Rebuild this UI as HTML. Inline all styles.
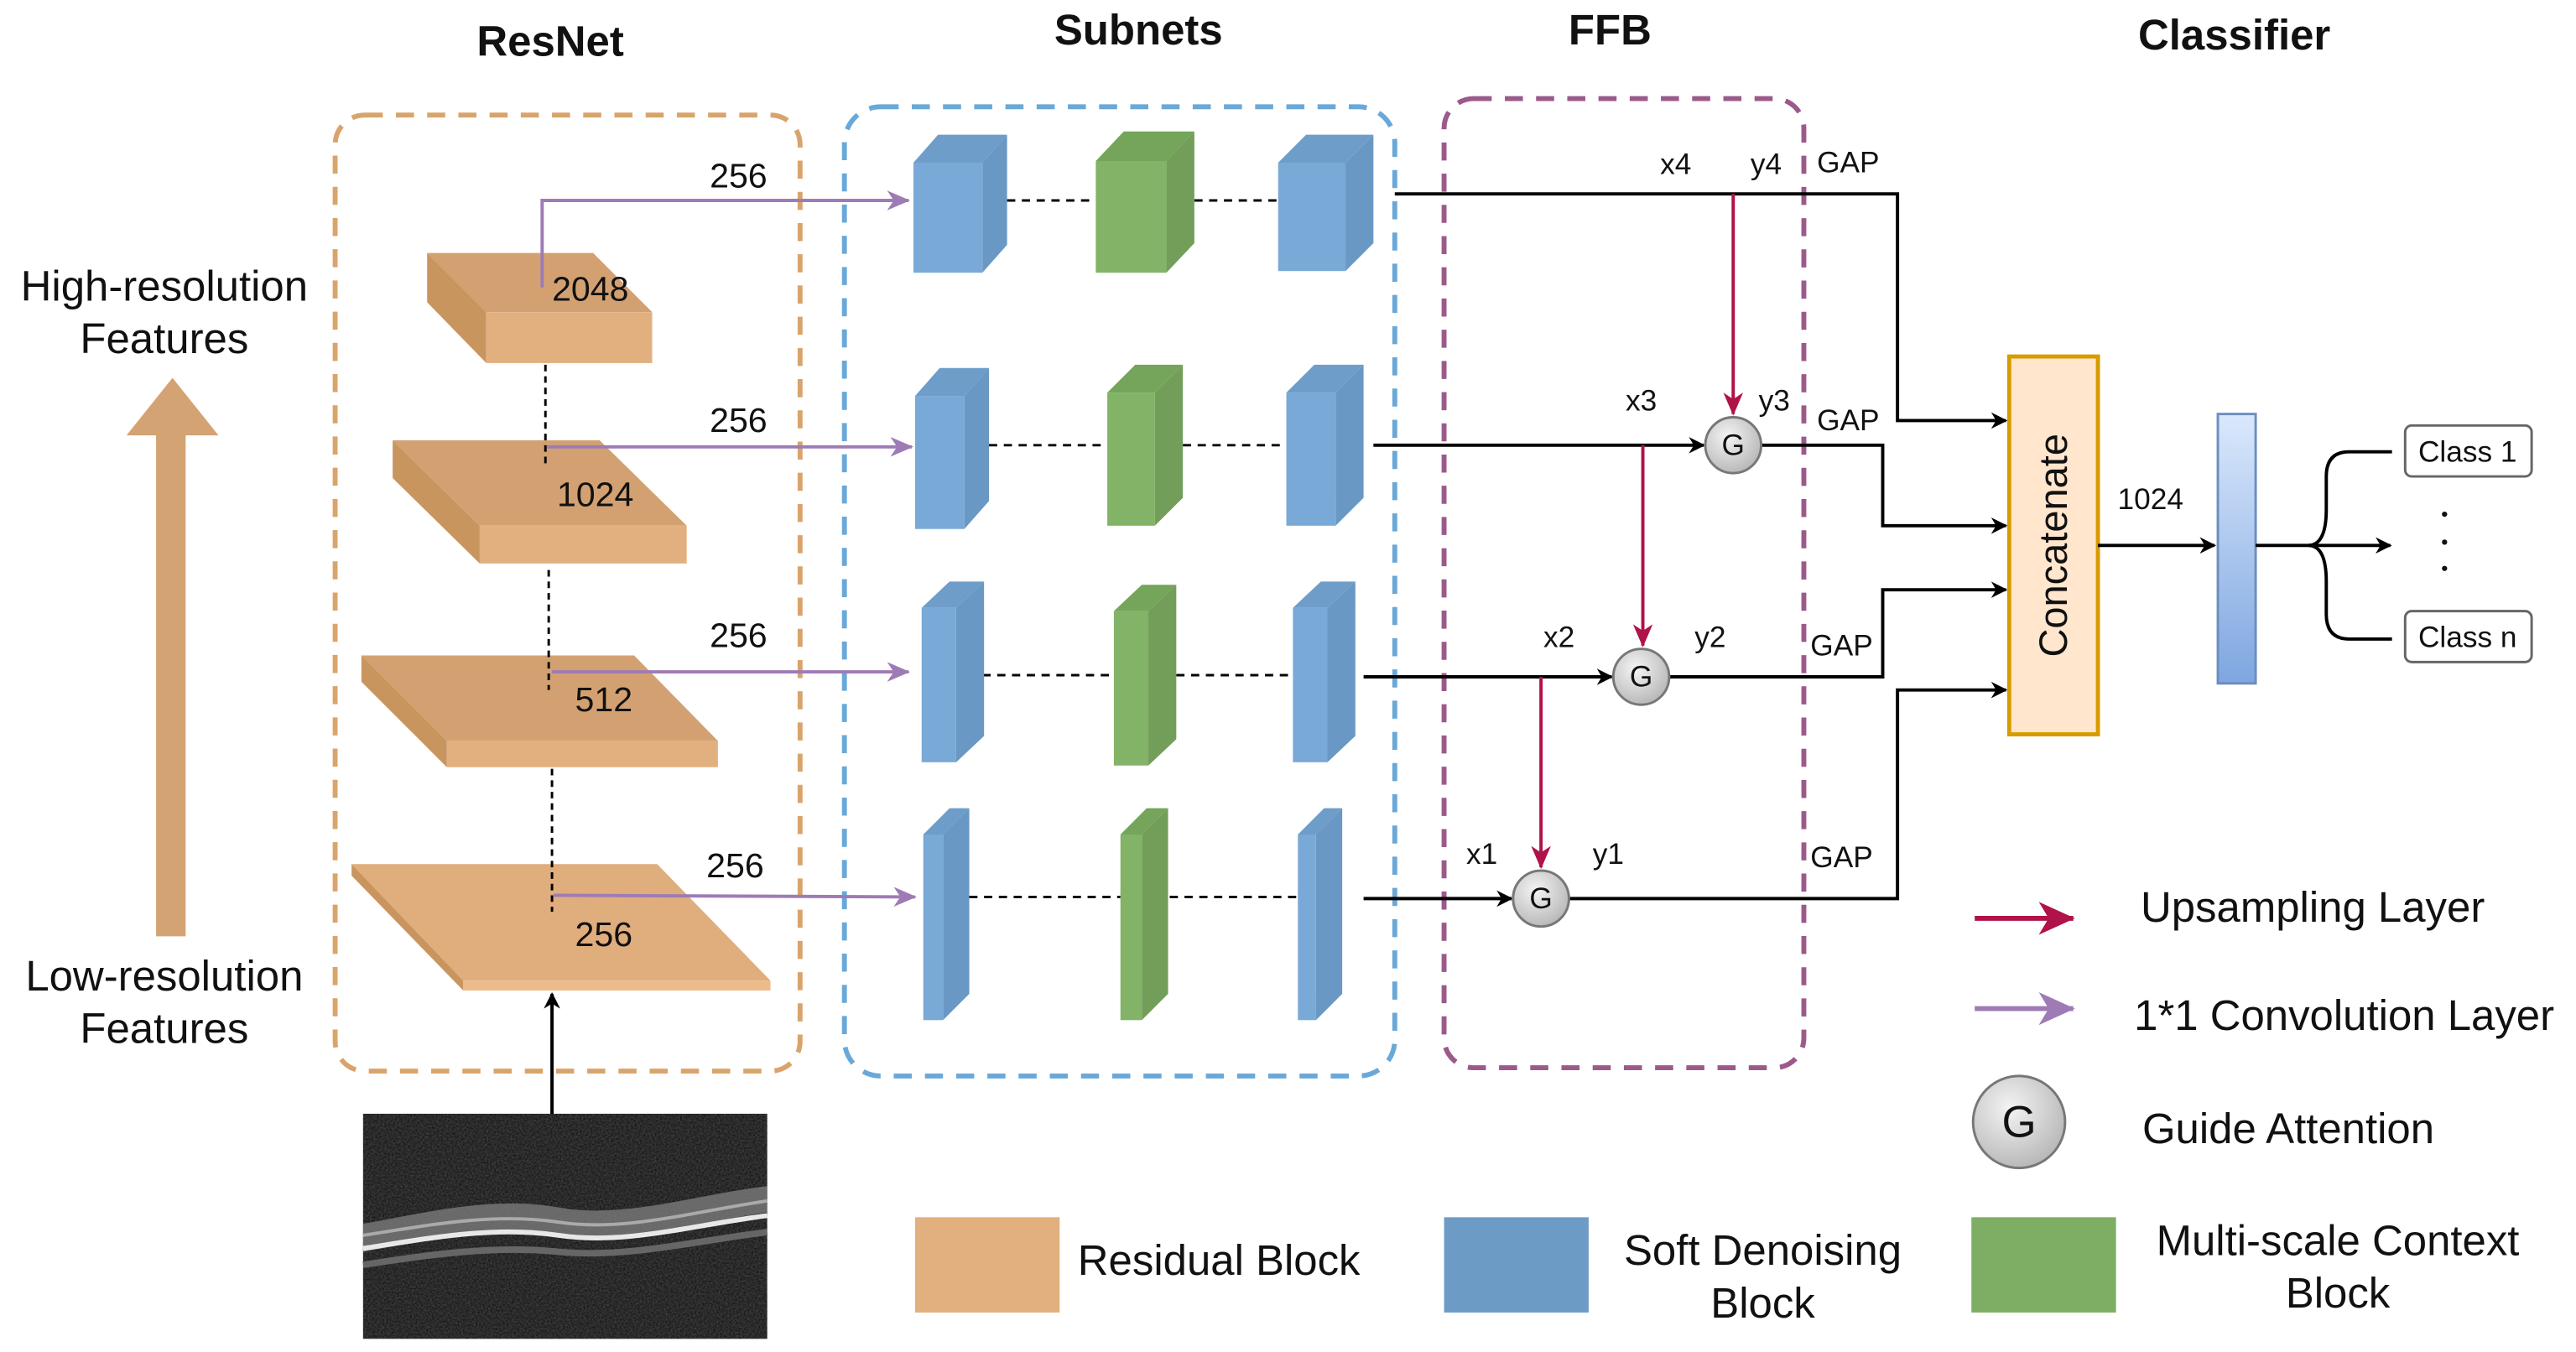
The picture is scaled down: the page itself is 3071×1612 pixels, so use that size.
<!DOCTYPE html>
<html><head><meta charset="utf-8"><style>html,body{margin:0;padding:0;background:#fff}svg{display:block}</style></head><body>
<svg width="3071" height="1612" viewBox="0 0 1568 823" xmlns="http://www.w3.org/2000/svg" font-family="Liberation Sans, Arial, sans-serif">
<defs>
<marker id="ab" markerWidth="10" markerHeight="10" refX="9" refY="5" orient="auto" markerUnits="userSpaceOnUse"><path d="M0,0 L10,5 L0,10 L3,5 Z" fill="#000"/></marker>
<marker id="ap" markerWidth="14" markerHeight="12" refX="13" refY="6" orient="auto" markerUnits="userSpaceOnUse"><path d="M0,0 L14,6 L0,12 L4,6 Z" fill="#9E7BB5"/></marker>
<marker id="ar" markerWidth="14" markerHeight="12" refX="13" refY="6" orient="auto" markerUnits="userSpaceOnUse"><path d="M0,0 L14,6 L0,12 L4,6 Z" fill="#B0124A"/></marker>
<marker id="apL" markerWidth="22" markerHeight="20" refX="21" refY="10" orient="auto" markerUnits="userSpaceOnUse"><path d="M0,0 L22,10 L0,20 L6,10 Z" fill="#9E7BB5"/></marker>
<marker id="arL" markerWidth="22" markerHeight="20" refX="21" refY="10" orient="auto" markerUnits="userSpaceOnUse"><path d="M0,0 L22,10 L0,20 L6,10 Z" fill="#B0124A"/></marker>
<radialGradient id="gg" cx="40%" cy="35%" r="70%"><stop offset="0" stop-color="#f4f4f4"/><stop offset="1" stop-color="#b5b5b5"/></radialGradient>
<linearGradient id="bar" x1="0" y1="0" x2="0" y2="1"><stop offset="0" stop-color="#DAE8FC"/><stop offset="1" stop-color="#7EA6E0"/></linearGradient>
<filter id="noise" x="0" y="0" width="1" height="1"><feTurbulence type="fractalNoise" baseFrequency="0.9" numOctaves="2" seed="3"/><feColorMatrix values="0 0 0 0 0.5  0 0 0 0 0.5  0 0 0 0 0.5  0 0 0 0.35 0"/></filter>
</defs>

<g font-weight="bold" font-size="26" text-anchor="middle" fill="#111">
<text x="335" y="34">ResNet</text><text x="693" y="27">Subnets</text><text x="980" y="27">FFB</text><text x="1360" y="30">Classifier</text>
</g>

<rect x="204" y="70" width="283" height="582" rx="18" fill="none" stroke="#D9A46C" stroke-width="3" stroke-dasharray="11,8"/>
<rect x="514" y="65" width="335" height="590" rx="22" fill="none" stroke="#6AA8D8" stroke-width="3" stroke-dasharray="11,8"/>
<rect x="879" y="60" width="219" height="590" rx="18" fill="none" stroke="#9B5A8A" stroke-width="3" stroke-dasharray="11,8"/>

<polygon points="95,570 113,570 113,265 133,265 105,230 77,265 95,265" fill="#D4A373"/>
<g font-size="26" text-anchor="middle" fill="#111">
<text x="100" y="183">High-resolution</text><text x="100" y="215">Features</text>
<text x="100" y="603">Low-resolution</text><text x="100" y="635">Features</text>
</g>

<g>
<polygon points="260,154 361,154 397,190 296,190" fill="#D3A171"/><polygon points="260,154 296,190 296,221 260,184" fill="#C9955F"/><rect x="296" y="190" width="101" height="31" fill="#E2B07F"/>
<polygon points="239,268 365,268 418,320 292,320" fill="#D3A171"/><polygon points="239,268 292,320 292,343 239,291" fill="#C9955F"/><rect x="292" y="320" width="126" height="23" fill="#E2B07F"/>
<polygon points="220,399 386,399 437,451 272,451" fill="#D3A171"/><polygon points="220,399 272,451 272,467 220,415" fill="#C9955F"/><rect x="272" y="451" width="165" height="16" fill="#E2B07F"/>
<polygon points="214,526 400,526 469,597 282,597" fill="#E0AD7D"/><polygon points="214,526 282,597 282,603 214,533" fill="#C9955F"/><rect x="282" y="597" width="187" height="6" fill="#EDBB8A"/>
</g>
<g stroke="#000" stroke-width="1.5" stroke-dasharray="4,3">
<line x1="332" y1="222" x2="332" y2="285"/><line x1="334" y1="347" x2="334" y2="420"/><line x1="336" y1="468" x2="336" y2="555"/>
</g>
<g font-size="21" fill="#111">
<text x="336" y="183">2048</text><text x="339" y="308">1024</text><text x="350" y="433">512</text><text x="350" y="576">256</text>
<text x="432" y="114">256</text><text x="432" y="263">256</text><text x="432" y="394">256</text><text x="430" y="534">256</text>
</g>
<g stroke="#9E7BB5" stroke-width="2" fill="none">
<polyline points="330,175 330,122 553,122" marker-end="url(#ap)"/>
<line x1="333" y1="272" x2="555" y2="272" marker-end="url(#ap)"/>
<line x1="336" y1="409" x2="553" y2="409" marker-end="url(#ap)"/>
<line x1="337" y1="545" x2="557" y2="546" marker-end="url(#ap)"/>
</g>

<g stroke="#000" stroke-width="1.5" stroke-dasharray="5,4">
<line x1="613" y1="122" x2="667" y2="122"/><line x1="727" y1="122" x2="778" y2="122"/>
<line x1="602" y1="271" x2="674" y2="271"/><line x1="720" y1="271" x2="783" y2="271"/>
<line x1="598" y1="411" x2="678" y2="411"/><line x1="716" y1="411" x2="787" y2="411"/>
<line x1="590" y1="546" x2="682" y2="546"/><line x1="712" y1="546" x2="790" y2="546"/>
</g>

<g>
<polygon points="556,99 571,82 613,82 598,99" fill="#6E9DCA"/><polygon points="598,99 613,82 613,149 598,166" fill="#6A98C4"/><rect x="556" y="99" width="42" height="67" fill="#79A9D6"/>
<polygon points="667,98 684,80 727,80 710,98" fill="#74A55A"/><polygon points="710,98 727,80 727,148 710,166" fill="#739E5A"/><rect x="667" y="98" width="43" height="68" fill="#82B366"/>
<polygon points="778,99 795,82 836,82 819,99" fill="#6E9DCA"/><polygon points="819,99 836,82 836,148 819,165" fill="#6A98C4"/><rect x="778" y="99" width="41" height="66" fill="#79A9D6"/>
<polygon points="557,241 572,224 602,224 587,241" fill="#6E9DCA"/><polygon points="587,241 602,224 602,305 587,322" fill="#6A98C4"/><rect x="557" y="241" width="30" height="81" fill="#79A9D6"/>
<polygon points="674,239 691,222 720,222 703,239" fill="#74A55A"/><polygon points="703,239 720,222 720,303 703,320" fill="#739E5A"/><rect x="674" y="239" width="29" height="81" fill="#82B366"/>
<polygon points="783,239 800,222 830,222 813,239" fill="#6E9DCA"/><polygon points="813,239 830,222 830,303 813,320" fill="#6A98C4"/><rect x="783" y="239" width="30" height="81" fill="#79A9D6"/>
<polygon points="561,370 578,354 599,354 582,370" fill="#6E9DCA"/><polygon points="582,370 599,354 599,448 582,464" fill="#6A98C4"/><rect x="561" y="370" width="21" height="94" fill="#79A9D6"/>
<polygon points="678,372 695,356 716,356 699,372" fill="#74A55A"/><polygon points="699,372 716,356 716,450 699,466" fill="#739E5A"/><rect x="678" y="372" width="21" height="94" fill="#82B366"/>
<polygon points="787,370 804,354 825,354 808,370" fill="#6E9DCA"/><polygon points="808,370 825,354 825,448 808,464" fill="#6A98C4"/><rect x="787" y="370" width="21" height="94" fill="#79A9D6"/>
<polygon points="562,508 578,492 590,492 574,508" fill="#6E9DCA"/><polygon points="574,508 590,492 590,605 574,621" fill="#6A98C4"/><rect x="562" y="508" width="12" height="113" fill="#79A9D6"/>
<polygon points="682,508 698,492 711,492 695,508" fill="#74A55A"/><polygon points="695,508 711,492 711,605 695,621" fill="#739E5A"/><rect x="682" y="508" width="13" height="113" fill="#82B366"/>
<polygon points="790,508 806,492 817,492 801,508" fill="#6E9DCA"/><polygon points="801,508 817,492 817,605 801,621" fill="#6A98C4"/><rect x="790" y="508" width="11" height="113" fill="#79A9D6"/>
</g>

<g stroke="#000" stroke-width="2" fill="none">
<polyline points="849,118 1155,118 1155,256 1221,256" marker-end="url(#ab)"/>
<line x1="836" y1="271" x2="1037" y2="271" marker-end="url(#ab)"/>
<polyline points="1072,271 1146,271 1146,320 1221,320" marker-end="url(#ab)"/>
<line x1="830" y1="412" x2="981" y2="412" marker-end="url(#ab)"/>
<polyline points="1016,412 1146,412 1146,359 1221,359" marker-end="url(#ab)"/>
<line x1="830" y1="547" x2="920" y2="547" marker-end="url(#ab)"/>
<polyline points="955,547 1155,547 1155,420 1221,420" marker-end="url(#ab)"/>
</g>
<g stroke="#B0124A" stroke-width="2" fill="none">
<line x1="1055" y1="118" x2="1055" y2="252" marker-end="url(#ar)"/>
<line x1="1000" y1="271" x2="1000" y2="393" marker-end="url(#ar)"/>
<line x1="938" y1="412" x2="938" y2="528" marker-end="url(#ar)"/>
</g>
<g stroke="#777" stroke-width="1.5" fill="url(#gg)">
<circle cx="1055" cy="271" r="17"/><circle cx="999" cy="412" r="17"/><circle cx="938" cy="547" r="17"/>
</g>
<g font-size="18" text-anchor="middle" fill="#111">
<text x="1055" y="277">G</text><text x="999" y="418">G</text><text x="938" y="553">G</text>
<text x="1020" y="106">x4</text><text x="1075" y="106">y4</text><text x="1125" y="105">GAP</text>
<text x="999" y="250">x3</text><text x="1080" y="250">y3</text><text x="1125" y="262">GAP</text>
<text x="949" y="394">x2</text><text x="1041" y="394">y2</text><text x="1121" y="399">GAP</text>
<text x="902" y="526">x1</text><text x="979" y="526">y1</text><text x="1121" y="528">GAP</text>
</g>

<rect x="1223" y="217" width="54" height="230" fill="#FFE6CC" stroke="#D79B00" stroke-width="2.5"/>
<text transform="translate(1258,332) rotate(-90)" font-size="24" text-anchor="middle" fill="#111">Concatenate</text>
<line x1="1277" y1="332" x2="1348" y2="332" stroke="#000" stroke-width="2" marker-end="url(#ab)"/>
<text x="1309" y="310" font-size="18" text-anchor="middle" fill="#111">1024</text>
<rect x="1350" y="252" width="23" height="164" fill="url(#bar)" stroke="#6C8EBF" stroke-width="1.5"/>
<g stroke="#000" stroke-width="2" fill="none">
<line x1="1373" y1="332" x2="1455" y2="332" marker-end="url(#ab)"/>
<path d="M1405,332 Q1416,332 1416,310 L1416,290 Q1416,275 1430,275 L1456,275"/>
<path d="M1405,332 Q1416,332 1416,354 L1416,374 Q1416,389 1430,389 L1456,389"/>
</g>
<rect x="1464" y="259" width="77" height="31" rx="4" fill="#fff" stroke="#666" stroke-width="1.5"/>
<rect x="1464" y="372" width="77" height="31" rx="4" fill="#fff" stroke="#666" stroke-width="1.5"/>
<g font-size="18" text-anchor="middle" fill="#111"><text x="1502" y="281">Class 1</text><text x="1502" y="394">Class n</text></g>
<g fill="#111"><circle cx="1488" cy="313" r="1.6"/><circle cx="1488" cy="330" r="1.6"/><circle cx="1488" cy="346" r="1.6"/></g>

<line x1="1202" y1="559" x2="1262" y2="559" stroke="#B0124A" stroke-width="3" marker-end="url(#arL)"/>
<line x1="1202" y1="614" x2="1262" y2="614" stroke="#9E7BB5" stroke-width="3" marker-end="url(#apL)"/>
<circle cx="1229" cy="683" r="28" fill="url(#gg)" stroke="#777" stroke-width="1.5"/>
<text x="1229" y="692" font-size="27" text-anchor="middle" fill="#111">G</text>
<g font-size="26" fill="#111">
<text x="1303" y="561">Upsampling Layer</text>
<text x="1299" y="627">1*1 Convolution Layer</text>
<text x="1304" y="696">Guide Attention</text>
<text x="656" y="776">Residual Block</text>
</g>
<g font-size="26" fill="#111" text-anchor="middle">
<text x="1073" y="770">Soft Denoising</text><text x="1073" y="802">Block</text>
<text x="1423" y="764">Multi-scale Context</text><text x="1423" y="796">Block</text>
</g>
<rect x="557" y="741" width="88" height="58" fill="#E2B07F"/>
<rect x="879" y="741" width="88" height="58" fill="#6C9CC6"/>
<rect x="1200" y="741" width="88" height="58" fill="#7DAE63"/>

<rect x="221" y="678" width="246" height="137" fill="#0c0c0c"/>
<rect x="221" y="678" width="246" height="137" filter="url(#noise)"/>
<path d="M221,745 C260,738 300,728 340,735 C380,742 420,728 467,722 L467,738 C420,745 380,758 340,752 C300,746 260,755 221,762 Z" fill="#7a7a7a" opacity="0.8"/>
<path d="M221,760 C260,754 300,746 340,752 C380,758 420,746 467,740" stroke="#e8e8e8" stroke-width="3" fill="none"/>
<path d="M221,752 C260,746 300,738 340,744 C380,750 420,738 467,731" stroke="#aaa" stroke-width="2" fill="none"/>
<path d="M221,770 C260,764 300,758 340,762 C380,766 420,756 467,750" stroke="#666" stroke-width="4" fill="none"/>
<line x1="336" y1="678" x2="336" y2="605" stroke="#000" stroke-width="2" marker-end="url(#ab)"/>
</svg>
</body></html>
